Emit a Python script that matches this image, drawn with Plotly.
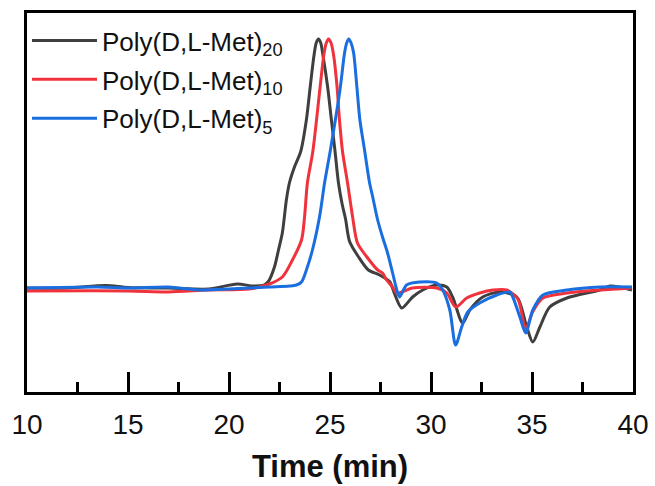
import plotly.graph_objects as go

# Retention time (min) and normalized RI signal for each polymer
t20 = [10, 12, 13.9, 15, 17, 19, 20.4, 21.2, 21.75, 21.95, 22.25, 22.45, 22.64, 22.74, 22.84, 22.99,
       23.24, 23.55, 23.83, 24.02, 24.2, 24.32, 24.43, 24.54, 24.66, 24.88, 25.07, 25.25, 25.42, 25.6, 25.77,
       25.97, 26.4, 26.9, 27.45, 27.95, 28.2, 28.55, 29.09, 29.59, 30.28, 30.78, 31.07, 31.57,
       31.92, 32.56, 33.4, 34.25, 34.74, 35.04, 35.39, 35.88, 36.73, 38.36, 38.86, 39.95]
v20 = [0.004, 0.004, 0.014, 0.006, 0.004, 0.0, 0.02, 0.012, 0.016, 0.03, 0.088, 0.156, 0.224, 0.288, 0.356, 0.424,
       0.488, 0.55, 0.676, 0.808, 0.93, 0.985, 1.0, 0.985, 0.93, 0.81, 0.676, 0.55, 0.424, 0.34, 0.28,
       0.19, 0.13, 0.076, 0.056, 0.03, -0.02, -0.076, -0.032, -0.004, 0.016, 0.008, -0.032, -0.136,
       -0.084, -0.032, -0.012, -0.032, -0.152, -0.212, -0.152, -0.072, -0.036, -0.004, 0.012, -0.004]

t10 = [10, 15, 17, 19, 21, 22.0, 22.64, 23.14, 23.59, 23.74, 23.88, 24.15, 24.5, 24.7, 24.82, 24.93,
       25.05, 25.17, 25.35, 25.47, 25.62, 25.87, 26.12, 26.36, 26.81, 27.36, 27.6, 27.8, 28.1, 28.3, 28.55,
       29.09, 30.28, 30.78, 31.22, 31.77, 32.41, 33.06, 33.75, 34.3, 34.69, 35.04, 35.54, 36.73,
       38.36, 39.95]
v10 = [-0.008, -0.008, -0.012, -0.004, 0.0, 0.02, 0.048, 0.116, 0.196, 0.288, 0.424, 0.55, 0.8, 0.94, 0.985, 1.0,
       0.985, 0.94, 0.808, 0.676, 0.55, 0.424, 0.288, 0.184, 0.13, 0.076, 0.064, 0.036, 0.008, -0.016, -0.012,
       0.004, 0.004, -0.016, -0.072, -0.036, -0.016, -0.004, -0.004, -0.04, -0.16, -0.09, -0.036, -0.016,
       -0.004, 0.004]

t5 = [10, 13.5, 15, 17, 18.5, 20, 21, 22, 23.0, 23.34, 23.59, 23.88, 24.13, 24.48, 24.73, 25.02,
      25.5, 25.72, 25.83, 25.93, 26.04, 26.17, 26.33, 26.48, 26.71, 26.96, 27.11, 27.36, 27.6, 27.85, 28.1,
      28.35, 28.45, 28.79, 29.44, 30.28, 30.58, 30.93, 31.22, 31.52, 31.82, 32.41, 33.26, 33.9,
      34.05, 34.4, 34.69, 35.04, 35.54, 36.73, 38.36, 39.95]
v5 = [0.004, 0.008, 0.004, 0.008, -0.004, 0.0, 0.004, 0.008, 0.012, 0.016, 0.028, 0.088, 0.156, 0.288, 0.424, 0.556,
      0.8, 0.944, 0.985, 1.0, 0.985, 0.944, 0.808, 0.676, 0.556, 0.424, 0.37, 0.276, 0.208, 0.144, 0.064,
      -0.016, -0.032, 0.016, 0.028, 0.024, -0.004, -0.084, -0.224, -0.152, -0.092, -0.056, -0.024, -0.012,
      -0.032, -0.112, -0.176, -0.084, -0.024, -0.004, 0.008, 0.008]

names = ["Poly(D,L-Met)<sub>20</sub>", "Poly(D,L-Met)<sub>10</sub>", "Poly(D,L-Met)<sub>5</sub>"]
colors = ["#3f3f3f", "#f0323c", "#1a6fe0"]
xticks = [10, 15, 20, 25, 30, 35, 40]

fig = go.Figure()
for i, (t, v, n, c) in enumerate(zip([t20, t10, t5], [v20, v10, v5], names, colors)):
    fig.add_trace(go.Scatter(x=t, y=v, mode="lines", name=n, legendgroup=f"g{i}",
                             line=dict(color=c, width=3, shape="spline", smoothing=0.8)))

fig.update_layout(
    width=655, height=486,
    margin=dict(l=27, r=22, t=13, b=94),
    paper_bgcolor="white", plot_bgcolor="white",
    font=dict(family="Liberation Sans, Arial, sans-serif", color="black"),
    showlegend=True,
    legend=dict(x=0.0, y=0.989, xanchor="left", yanchor="top",
                bgcolor="rgba(0,0,0,0)", font=dict(size=26, color="#111"),
                tracegroupgap=2, itemwidth=65),
)
fig.update_xaxes(
    range=[10, 40], tickvals=xticks, ticktext=[str(v) for v in xticks],
    showline=True, linewidth=3, linecolor="black", mirror=True,
    ticks="inside", ticklen=20, tickwidth=2.5, tickcolor="black",
    tickfont=dict(size=28, color="#111"), automargin=False, ticklabelstandoff=5,
    minor=dict(dtick=2.5, ticks="inside", ticklen=10, tickwidth=2.5, tickcolor="black"),
    showgrid=False, zeroline=False,
    title=dict(text="<b>Time (min)</b>", font=dict(size=31, color="#111"), standoff=17),
)
fig.update_yaxes(
    range=[-0.412, 1.104], showticklabels=False, ticks="", automargin=False,
    showline=True, linewidth=3, linecolor="black", mirror=True,
    showgrid=False, zeroline=False,
)
fig.write_html("out.html", config={"displayModeBar": False},
               post_script="document.body.style.margin='0';")
